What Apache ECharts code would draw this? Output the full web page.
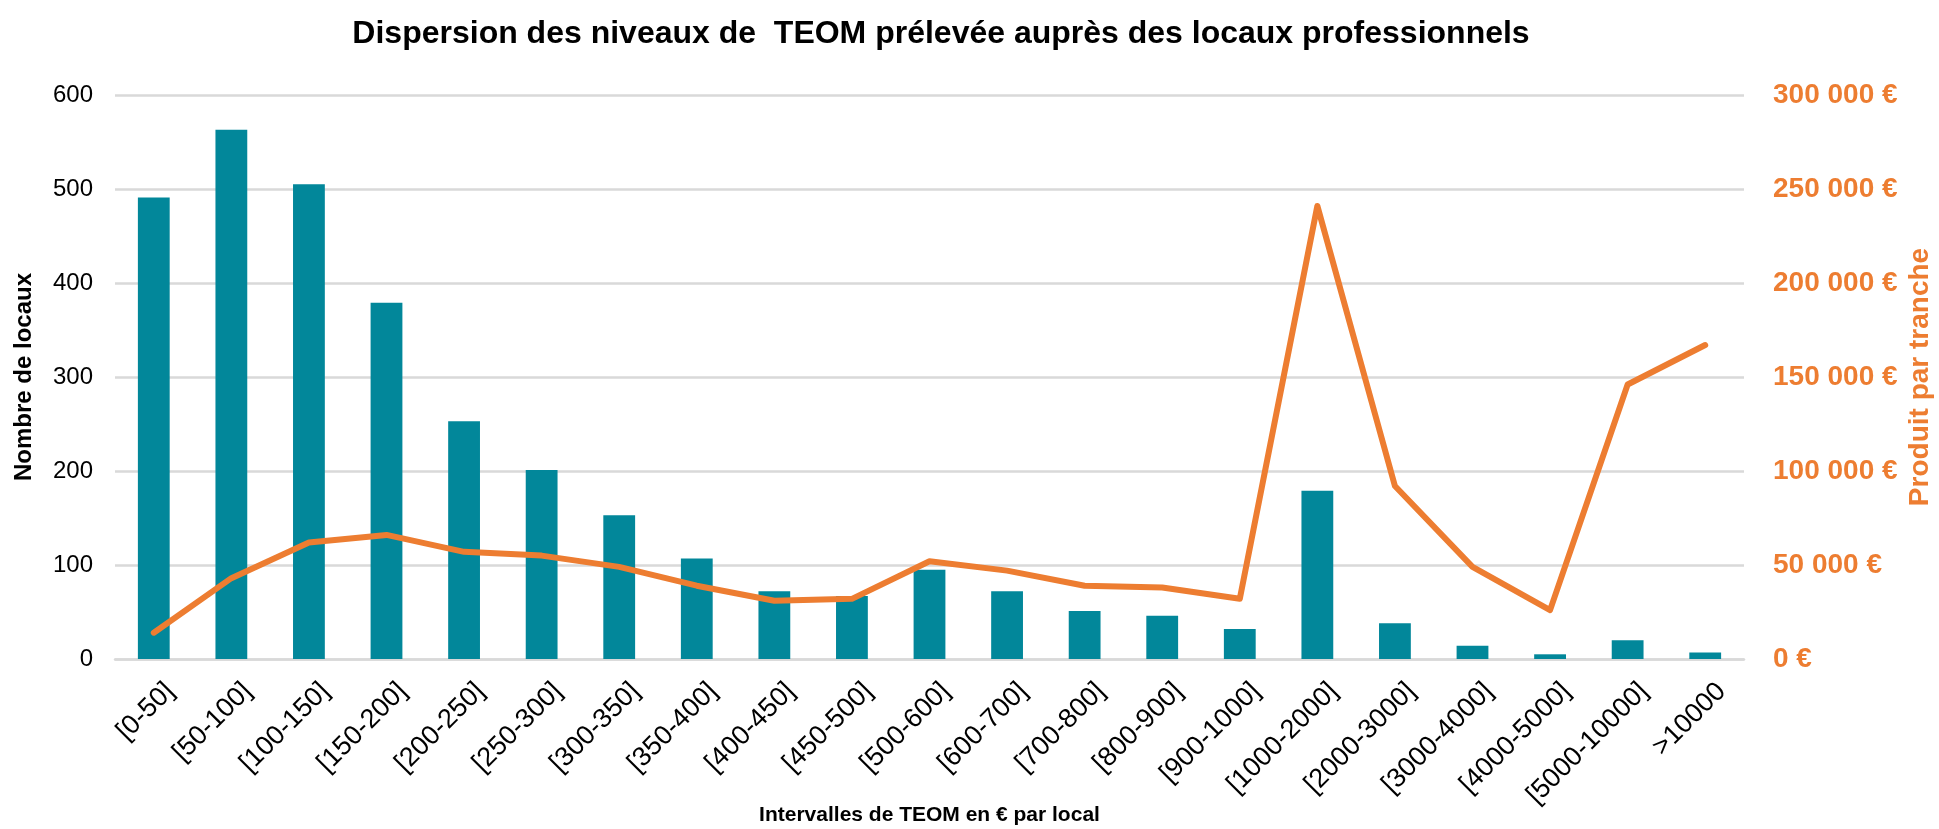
<!DOCTYPE html>
<html>
<head>
<meta charset="utf-8">
<script src="https://cdn.jsdelivr.net/npm/echarts@6/dist/echarts.min.js"></script>
<style>
  html, body { margin: 0; padding: 0; background: #fff; }
  #chart { width: 1939px; height: 829px; }
</style>
</head>
<body>
<div id="chart"></div>
<script>
var categories = [
  "[0-50]", "[50-100]", "[100-150]", "[150-200]", "[200-250]", "[250-300]",
  "[300-350]", "[350-400]", "[400-450]", "[450-500]", "[500-600]", "[600-700]",
  "[700-800]", "[800-900]", "[900-1000]", "[1000-2000]", "[2000-3000]",
  "[3000-4000]", "[4000-5000]", "[5000-10000]", ">10000"
];

// nombre de locaux par tranche
var nbLocaux = [
  491, 563, 505, 379, 253, 201, 153, 107, 72, 67, 95, 72,
  51, 46, 32, 179, 38, 14, 5, 20, 7
];

// produit par tranche (€)
var produit = [
  14000, 43000, 62000, 66000, 57000, 55000, 49000, 39000, 31000, 32000, 52000, 47000,
  39000, 38000, 32000, 241000, 92000, 49000, 26000, 146000, 167000
];

function formatNumber(num) {
  return num.toString().replace(/(\d)(?=(\d{3})+(?!\d))/g, "$1 ");
}

var font = "Liberation Sans, Arial, sans-serif";
var orange = "#ED7D31";

var myChart = echarts.init(document.getElementById("chart"));
var option = {
  animation: false,
  textStyle: { fontFamily: font },
  title: {
    left: 936,
    textAlign: "center",
    top: 13,
    text: "Dispersion des niveaux de  TEOM prélevée auprès des locaux professionnels",
    textStyle: { fontFamily: font, fontSize: 32, fontWeight: "bold", color: "#000" },
  },
  grid: { left: 115, right: 195, top: 95, bottom: 170, outerBoundsMode: "none" },
  xAxis: {
    type: "category",
    data: categories,
    name: "Intervalles de TEOM en € par local",
    nameLocation: "middle",
    nameGap: 146,
    nameMoveOverlap: false,
    nameTextStyle: { fontFamily: font, fontSize: 21, fontWeight: "bold", color: "#000" },
    axisLine: { lineStyle: { color: "#d9d9d9", width: 2.5 } },
    axisTick: { show: false },
    axisLabel: {
      rotate: 45,
      interval: 0,
      margin: 12,
      fontSize: 27,
      color: "#000",
      fontFamily: font,
      verticalAlign: "top",
      lineHeight: 46,
    },
  },
  yAxis: [
    {
      type: "value",
      min: 0,
      max: 600,
      interval: 100,
      name: "Nombre de locaux",
      nameLocation: "middle",
      nameGap: 79,
      nameMoveOverlap: false,
      nameTextStyle: { fontFamily: font, fontSize: 24, fontWeight: "bold", color: "#000" },
      axisLabel: { fontSize: 24, color: "#000", margin: 22, fontFamily: font },
      splitLine: { lineStyle: { color: "#d9d9d9", width: 2.5 } },
    },
    {
      type: "value",
      min: 0,
      max: 300000,
      interval: 50000,
      position: "right",
      name: "Produit par tranche",
      nameLocation: "middle",
      nameGap: 162,
      nameRotate: 90,
      nameMoveOverlap: false,
      nameTextStyle: { fontFamily: font, fontSize: 28, fontWeight: "bold", color: orange },
      axisLabel: {
        fontSize: 28,
        fontWeight: "bold",
        color: orange,
        margin: 29,
        fontFamily: font,
        formatter: function (v) {
          return formatNumber(v) + " €";
        },
      },
      splitLine: { show: false },
    },
  ],
  series: [
    {
      name: "Nombre de locaux",
      type: "bar",
      data: nbLocaux,
      barWidth: "41%",
      itemStyle: { color: "#02879A" },
    },
    {
      name: "Produit par tranche",
      type: "line",
      yAxisIndex: 1,
      data: produit,
      symbol: "none",
      lineStyle: { color: orange, width: 6, cap: "round", join: "round" },
      itemStyle: { color: orange },
    },
  ],
};
myChart.setOption(option);
</script>
</body>
</html>
